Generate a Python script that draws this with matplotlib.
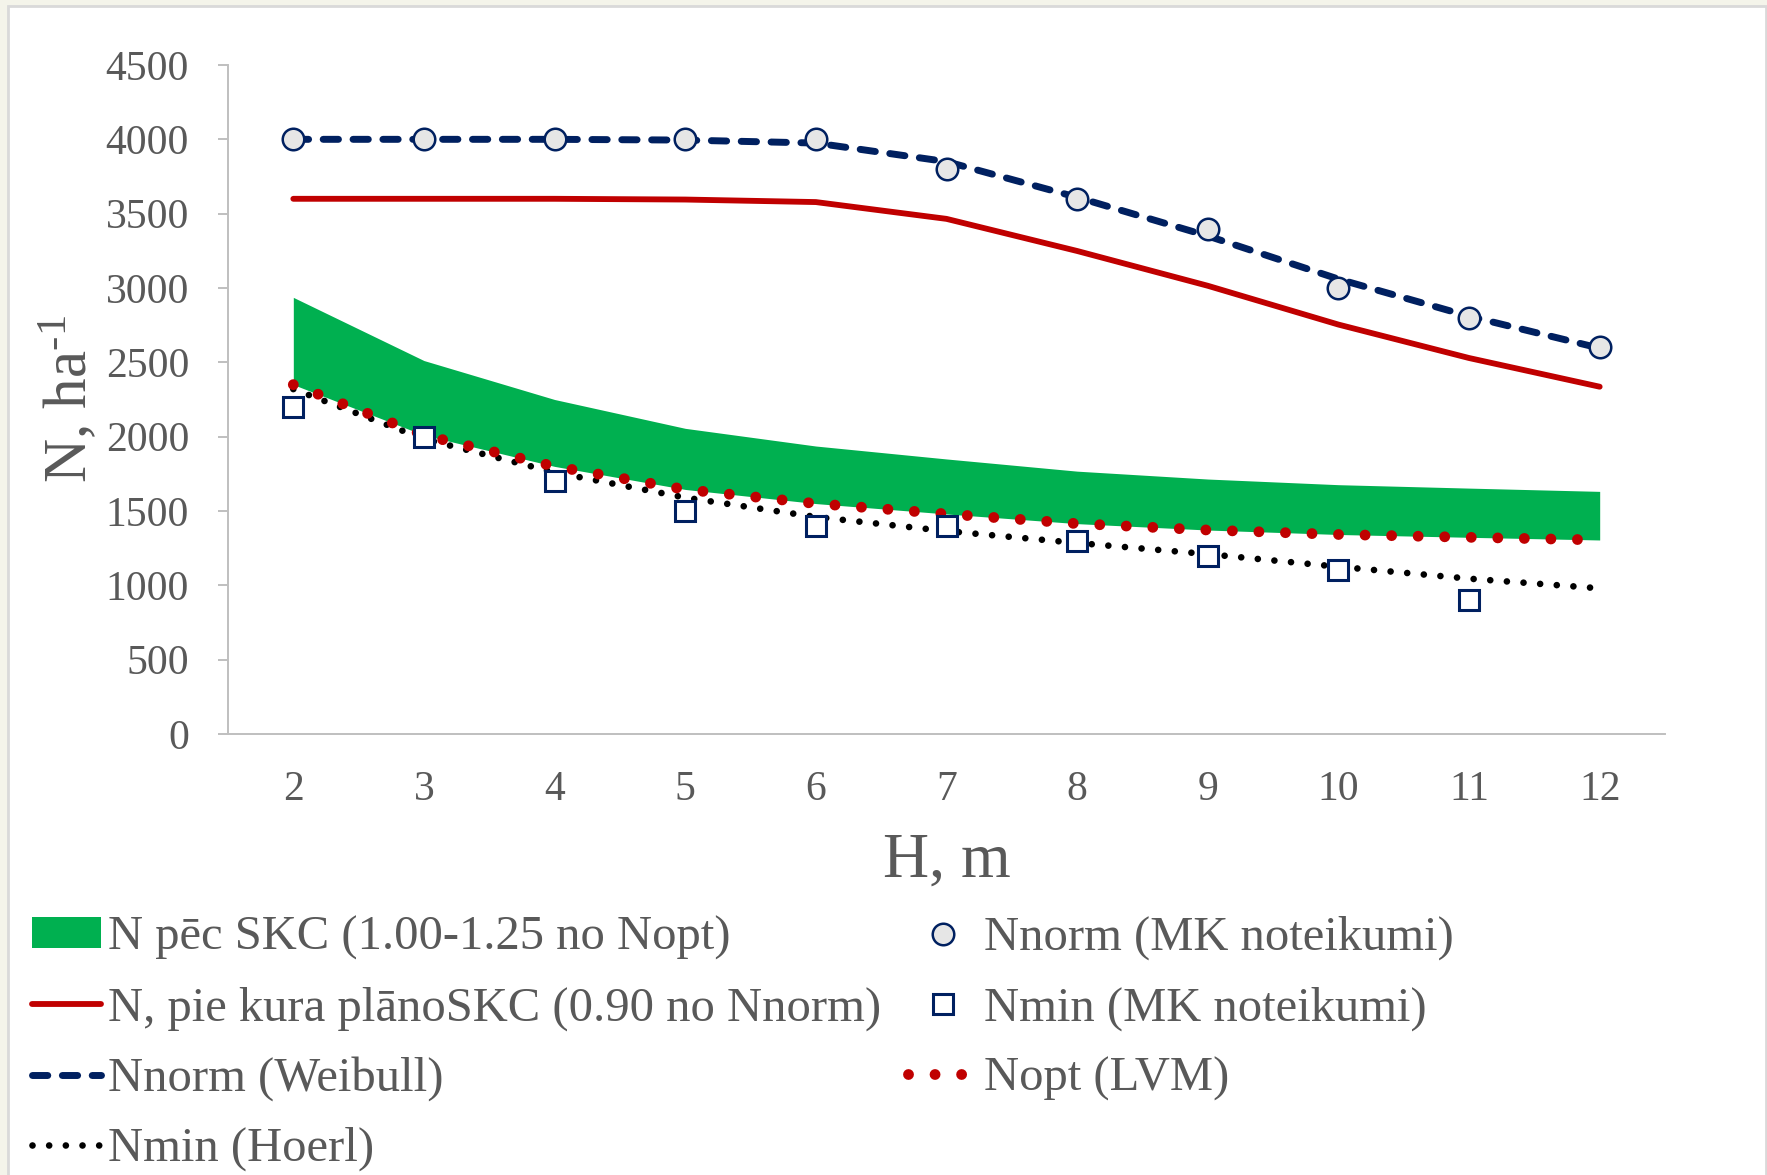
import matplotlib
matplotlib.use("Agg")
import matplotlib.pyplot as plt
import numpy as np
from matplotlib.patches import Rectangle, Patch
from matplotlib.lines import Line2D

# ---- data ----
heights = [2, 3, 4, 5, 6, 7, 8, 9, 10, 11, 12]
n_norm_mk = [4000, 4000, 4000, 4000, 4000, 3800, 3600, 3400, 3000, 2800, 2600]
n_min_mk = [2200, 2000, 1700, 1500, 1400, 1400, 1300, 1200, 1100, 900, np.nan]
n_norm_weibull = [4000, 4000, 4000, 3995, 3975, 3850, 3610, 3350, 3060, 2810, 2595]
n_plano_skc = [3600, 3600, 3600, 3595, 3578, 3465, 3249, 3015, 2754, 2529, 2336]
n_opt_lvm = [2350, 2010, 1800, 1645, 1550, 1480, 1415, 1372, 1342, 1323, 1305]
n_skc_upper = [2937, 2512, 2250, 2056, 1937, 1850, 1768, 1715, 1677, 1654, 1632]
n_min_hoerl = [2320, 1985, 1760, 1590, 1460, 1365, 1285, 1210, 1125, 1045, 980]
y_ticks = [0, 500, 1000, 1500, 2000, 2500, 3000, 3500, 4000, 4500]

labels = [
    "N pēc SKC (1.00-1.25 no Nopt)",
    "N, pie kura plānoSKC (0.90 no Nnorm)",
    "Nnorm (Weibull)",
    "Nmin (Hoerl)",
    "Nnorm (MK noteikumi)",
    "Nmin (MK noteikumi)",
    "Nopt (LVM)",
]

NAVY = "#002060"
RED = "#c00000"
GREEN = "#00b050"
TEXT = "#595959"
AXIS = "#bfbfbf"

plt.rcParams["font.family"] = ["Liberation Serif", "DejaVu Serif"]
plt.rcParams["mathtext.fontset"] = "custom"
plt.rcParams["mathtext.rm"] = "Liberation Serif"
plt.rcParams["mathtext.it"] = "Liberation Serif:italic"

W, H = 1767, 1175
fig = plt.figure(figsize=(W / 100, H / 100), dpi=100, facecolor="#f4f4ea")

# white card with a light grey frame
fig.patches.append(Rectangle((8 / W, -0.01), (W - 9) / W, (H - 6) / H + 0.01,
                             transform=fig.transFigure, facecolor="white",
                             edgecolor="#d9d9d9", linewidth=2.0, zorder=-10))

ax = fig.add_axes([228 / W, (H - 734) / H, (1665 - 228) / W, (734 - 65) / H])
ax.set_facecolor("white")

dot_red = (0, (0.001, 2.45))
dot_black = (0, (0.001, 2.5))
dash_navy = (0, (2.2, 2.1))

ax.fill_between(heights, n_opt_lvm, n_skc_upper, color=GREEN, linewidth=0, zorder=1)
ax.plot(heights, n_plano_skc, color=RED, lw=4.2, solid_capstyle="round", zorder=2)
ax.plot(heights, n_norm_weibull, color=NAVY, lw=5, linestyle=dash_navy,
        dash_capstyle="round", zorder=3)
ax.plot(heights, n_norm_mk, linestyle="none", marker="o", ms=15.5,
        mfc="#e6e6e6", mec=NAVY, mew=1.8, zorder=6)
ax.plot(heights, n_min_hoerl, color="black", lw=4.8, linestyle=dot_black,
        dash_capstyle="round", zorder=4)
ax.plot(heights, n_opt_lvm, color=RED, lw=7.8, linestyle=dot_red,
        dash_capstyle="round", zorder=5)
ax.plot(heights, n_min_mk, linestyle="none", marker="s", ms=14.5,
        mfc="white", mec=NAVY, mew=2.2, zorder=7)

ax.set_xlim(1.5, 12.5)
ax.set_ylim(0, 4500)
ax.set_xticks(heights)
ax.set_xticklabels([str(h) for h in heights])
ax.set_yticks(y_ticks)
ax.set_yticklabels([str(v) for v in y_ticks])

for s in ["top", "right"]:
    ax.spines[s].set_visible(False)
for s in ["left", "bottom"]:
    ax.spines[s].set_color(AXIS)
    ax.spines[s].set_linewidth(1.4)

ax.tick_params(axis="x", length=0, pad=26, labelsize=30, labelcolor=TEXT)
ax.tick_params(axis="y", length=7, width=1.4, color=AXIS, pad=21,
               labelsize=30, labelcolor=TEXT)

ax.set_xlabel("H, m", fontsize=46, color=TEXT)
ax.xaxis.set_label_coords(0.5, -0.147)
ax.set_ylabel(r"N, ha$^{\text{-1}}$", fontsize=44, color=TEXT)
ax.yaxis.set_label_coords(-0.089, 0.5)

# legend, two columns
h_fill = Patch(facecolor=GREEN, edgecolor="none")
h_red = Line2D([], [], color=RED, lw=4.2, solid_capstyle="round")
h_dash = Line2D([], [], color=NAVY, lw=5, linestyle=dash_navy, dash_capstyle="round")
h_hoerl = Line2D([], [], color="black", lw=4.8, linestyle=dot_black, dash_capstyle="round")
h_circ = Line2D([], [], linestyle="none", marker="o", ms=15.5, mfc="#e6e6e6", mec=NAVY, mew=1.8)
h_sq = Line2D([], [], linestyle="none", marker="s", ms=14.5, mfc="white", mec=NAVY, mew=2.2)
h_opt = Line2D([], [], color=RED, lw=7.8, linestyle=dot_red, dash_capstyle="round")

leg_kw = dict(loc="upper left", frameon=False, fontsize=35, borderpad=0,
              borderaxespad=0, handlelength=1.42, handletextpad=0.14,
              labelspacing=0.53, handleheight=0.6, labelcolor=TEXT)
leg1 = fig.legend([h_fill, h_red, h_dash, h_hoerl], labels[:4],
                  bbox_to_anchor=(32 / W, (H - 916) / H), **leg_kw)
leg2 = fig.legend([h_circ, h_sq, h_opt], labels[4:],
                  bbox_to_anchor=(908 / W, (H - 916) / H), **leg_kw)

fig.savefig("out.png", dpi=100, facecolor=fig.get_facecolor())
